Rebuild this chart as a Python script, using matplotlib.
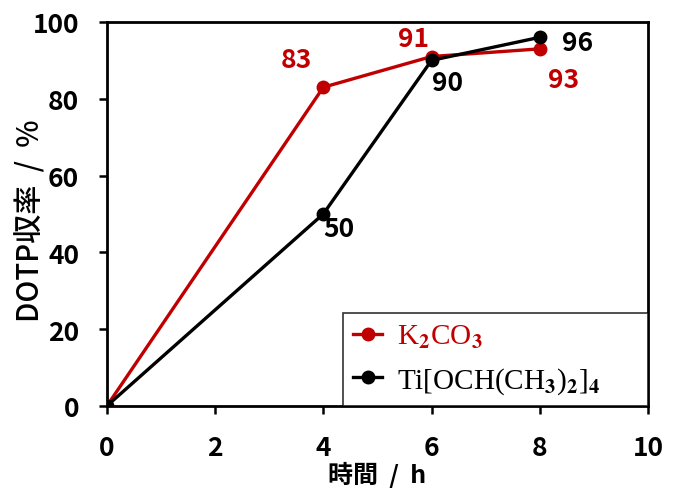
import matplotlib
matplotlib.use("Agg")
import matplotlib.pyplot as plt

# Datos
horas = [0, 4, 6, 8]
k2co3 = [0, 83, 91, 93]
ti_oipr = [0, 50, 90, 96]

etiquetas_k2co3 = ["83", "91", "93"]
etiquetas_ti = ["50", "90", "96"]

ROJO = "#C00000"
NEGRO = "#000000"

plt.rcParams["font.family"] = ["Noto Sans CJK JP", "DejaVu Sans"]
plt.rcParams["font.weight"] = "bold"
plt.rcParams["mathtext.fontset"] = "stix"

fig = plt.figure(figsize=(6.77, 4.89), dpi=100)
ax = fig.add_axes([0.158, 0.168, 0.799, 0.785])

ax.plot(horas, k2co3, color=ROJO, lw=2.4, marker="o", ms=9, label="K$_2$CO$_3$", zorder=3)
ax.plot(horas, ti_oipr, color=NEGRO, lw=2.4, marker="o", ms=9,
        label="Ti[OCH(CH$_3$)$_2$]$_4$", zorder=4)

# Etiquetas de valores
desp_k = [(-8, 10), (-2, 3), (6, -12)]
for (dx, dy), x, y, t in zip(desp_k, horas[1:], k2co3[1:], etiquetas_k2co3):
    ax.annotate(t, (x, y), xytext=(dx, dy), textcoords="offset points",
                color=ROJO, fontsize=19, fontweight="bold",
                ha="right" if dx < 0 else "left", va="bottom" if dy > 0 else "top")
desp_t = [(0, -1), (0, -6), (16, -4)]
for (dx, dy), x, y, t in zip(desp_t, horas[1:], ti_oipr[1:], etiquetas_ti):
    ax.annotate(t, (x, y), xytext=(dx, dy), textcoords="offset points",
                color=NEGRO, fontsize=19, fontweight="bold",
                ha="left", va="top" if dx < 10 else "center")

ax.set_xlim(0, 10)
ax.set_ylim(0, 100)
ax.set_xticks(range(0, 11, 2))
ax.set_yticks(range(0, 101, 20))
ax.tick_params(labelsize=19, width=1.8, length=6, direction="out", pad=14)
for s in ax.spines.values():
    s.set_linewidth(2)

ax.set_xlabel("時間  /  h", fontsize=18, fontweight="bold", labelpad=0)
ax.set_ylabel("DOTP収率  /  %", fontsize=21, fontweight="medium")
ax.yaxis.set_label_coords(-0.112, 0.485)

leg = ax.legend(loc="lower left", bbox_to_anchor=(0.436, 0.0, 0.564, 0.247),
                mode="expand", borderaxespad=0, fancybox=False,
                edgecolor="black", handlelength=1.0, handletextpad=0.5,
                borderpad=0.35, labelspacing=0.5,
                prop={"family": "Liberation Serif", "size": 21, "weight": "normal"})
leg.get_frame().set_linewidth(1.2)
for txt, c in zip(leg.get_texts(), [ROJO, NEGRO]):
    txt.set_color(c)

fig.savefig("out.png", dpi=100)
plt.close(fig)
